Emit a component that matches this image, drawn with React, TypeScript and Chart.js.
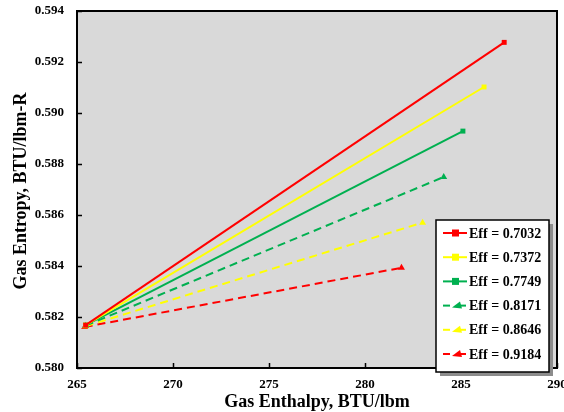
import React, { useEffect, useRef } from "react";
import { Chart, registerables } from "chart.js";

Chart.register(...registerables);

const seriesLabels = ["Eff = 0.7032", "Eff = 0.7372", "Eff = 0.7749", "Eff = 0.8171", "Eff = 0.8646", "Eff = 0.9184"];
const startX = [265.45, 265.45, 265.45, 265.45, 265.45, 265.4];
const startY = [0.58168, 0.58168, 0.58168, 0.58166, 0.58164, 0.58161];
const endX = [287.25, 286.2, 285.1, 284.1, 283.0, 281.9];
const endY = [0.59277, 0.59102, 0.58929, 0.58749, 0.5857, 0.58393];
const colors = ["#ff0000", "#ffff00", "#00b050", "#00b050", "#ffff00", "#ff0000"];
const dashed = [false, false, false, true, true, true];
const xTicks = [265, 270, 275, 280, 285, 290];
const yTicks = [0.58, 0.582, 0.584, 0.586, 0.588, 0.59, 0.592, 0.594];

const FONT = "'Liberation Serif', 'Times New Roman', serif";

const decorPlugin = {
  id: "decor",
  beforeDraw(chart: any) {
    const { ctx, chartArea: a } = chart;
    ctx.save();
    ctx.fillStyle = "#ffffff";
    ctx.fillRect(0, 0, chart.width, chart.height);
    ctx.fillStyle = "#d9d9d9";
    ctx.fillRect(a.left, a.top, a.right - a.left, a.bottom - a.top);
    ctx.restore();
  },
  afterDraw(chart: any) {
    const { ctx, chartArea: a, scales } = chart;
    ctx.save();
    // frame
    ctx.strokeStyle = "#000000";
    ctx.lineWidth = 2;
    ctx.strokeRect(a.left, a.top, a.right - a.left, a.bottom - a.top);
    // inward ticks
    ctx.lineWidth = 1.5;
    ctx.beginPath();
    xTicks.forEach((v) => {
      const px = Math.round(scales.x.getPixelForValue(v)) + 0.5;
      ctx.moveTo(px, a.bottom);
      ctx.lineTo(px, a.bottom - 5);
    });
    yTicks.forEach((v) => {
      const py = Math.round(scales.y.getPixelForValue(v)) + 0.5;
      ctx.moveTo(a.left, py);
      ctx.lineTo(a.left + 5, py);
    });
    ctx.stroke();

    // tick labels
    ctx.fillStyle = "#000000";
    ctx.font = `bold 13px ${FONT}`;
    ctx.textBaseline = "middle";
    ctx.textAlign = "center";
    xTicks.forEach((v) => {
      ctx.fillText(String(v), scales.x.getPixelForValue(v), a.bottom + 17);
    });
    ctx.textAlign = "right";
    yTicks.forEach((v) => {
      ctx.fillText(v.toFixed(3), a.left - 13, scales.y.getPixelForValue(v));
    });

    // axis titles
    ctx.font = `bold 18px ${FONT}`;
    ctx.textAlign = "center";
    ctx.textBaseline = "middle";
    ctx.fillText("Gas Enthalpy, BTU/lbm", 317, 402);
    ctx.save();
    ctx.translate(21, 191);
    ctx.rotate(-Math.PI / 2);
    ctx.fillText("Gas Entropy, BTU/lbm-R", 0, 0);
    ctx.restore();

    // legend
    const bx = 436, by = 220, bw = 113, bh = 152;
    ctx.fillStyle = "#8c8c8c";
    ctx.fillRect(bx + 4, by + 4, bw, bh);
    ctx.fillStyle = "#ffffff";
    ctx.fillRect(bx, by, bw, bh);
    ctx.strokeStyle = "#000000";
    ctx.lineWidth = 1.5;
    ctx.strokeRect(bx, by, bw, bh);
    ctx.font = `bold 14px ${FONT}`;
    ctx.textAlign = "left";
    ctx.textBaseline = "middle";
    seriesLabels.forEach((lab, i) => {
      const y = by + 13 + i * 24.2;
      ctx.strokeStyle = colors[i];
      ctx.fillStyle = colors[i];
      ctx.lineWidth = 2;
      if (dashed[i]) {
        ctx.beginPath();
        ctx.moveTo(443, y);
        ctx.lineTo(450, y);
        ctx.stroke();
        ctx.beginPath();
        ctx.moveTo(460, y - 4);
        ctx.lineTo(462, y + 3);
        ctx.lineTo(452, y + 2);
        ctx.closePath();
        ctx.fill();
        ctx.beginPath();
        ctx.moveTo(457, y);
        ctx.lineTo(466, y);
        ctx.stroke();
      } else {
        ctx.beginPath();
        ctx.moveTo(443, y);
        ctx.lineTo(467, y);
        ctx.stroke();
        ctx.fillRect(452, y - 3.5, 7, 7);
      }
      ctx.fillStyle = "#000000";
      ctx.fillText(lab, 469, y + 1);
    });
    ctx.restore();
  },
};

export default function App() {
  const ref = useRef<HTMLCanvasElement | null>(null);
  useEffect(() => {
    document.body.style.margin = "0";
    const datasets = seriesLabels.map((lab, i) => ({
      label: lab,
      data: [
        { x: startX[i], y: startY[i] },
        { x: endX[i], y: endY[i] },
      ],
      borderColor: colors[i],
      backgroundColor: colors[i],
      borderWidth: 2,
      borderDash: dashed[i] ? [8, 5] : [],
      pointStyle: dashed[i] ? "triangle" : "rect",
      pointRadius: dashed[i] ? 4 : 3.5,
      pointBorderWidth: 0,
      showLine: true,
      tension: 0,
    }));
    const chart = new Chart(ref.current as HTMLCanvasElement, {
      type: "scatter",
      data: { datasets: datasets as any },
      options: {
        animation: false,
        responsive: false,
        events: [],
        layout: { padding: { top: 11, right: 7, left: 0, bottom: 0 } },
        plugins: { legend: { display: false }, tooltip: { enabled: false } },
        scales: {
          x: {
            type: "linear",
            min: 265,
            max: 290,
            afterFit: (s: any) => {
              s.height = 44;
            },
            grid: { display: false, drawTicks: false },
            border: { display: false },
            ticks: { display: false },
          },
          y: {
            type: "linear",
            min: 0.58,
            max: 0.594,
            afterFit: (s: any) => {
              s.width = 77;
            },
            grid: { display: false, drawTicks: false },
            border: { display: false },
            ticks: { display: false },
          },
        },
      },
      plugins: [decorPlugin],
    });
    return () => chart.destroy();
  }, []);
  return (
    <div style={{ width: 564, height: 412 }}>
      <canvas ref={ref} width={564} height={412} style={{ display: "block" }} />
    </div>
  );
}
